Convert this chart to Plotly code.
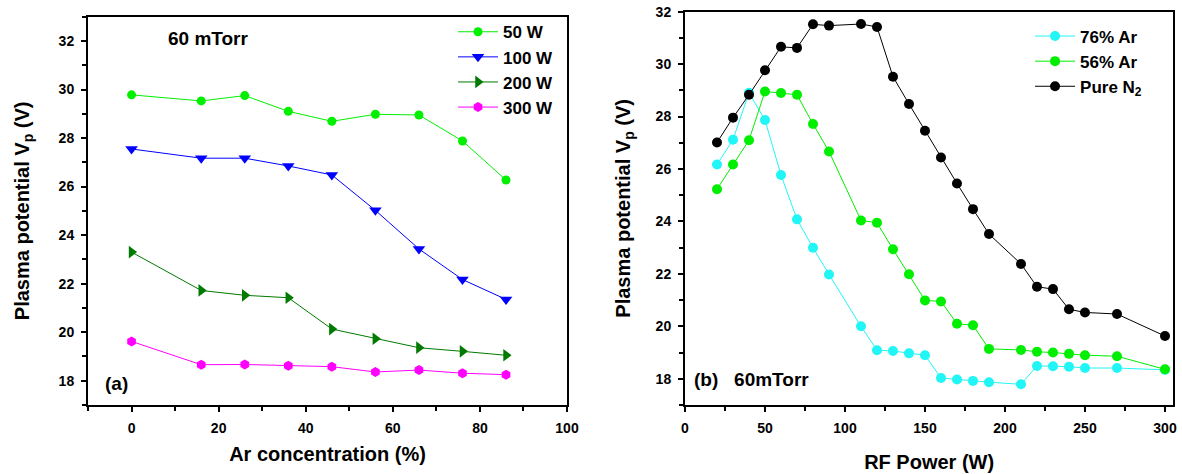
import plotly.graph_objects as go

# ---------------- data ----------------
ar_conc = [0, 16, 26, 36, 46, 56, 66, 76, 86]
vp_50w = [29.78, 29.53, 29.75, 29.10, 28.69, 28.98, 28.95, 27.88, 26.27]
vp_100w = [27.55, 27.17, 27.17, 26.85, 26.48, 25.02, 23.43, 22.17, 21.35]
vp_200w = [23.30, 21.72, 21.52, 21.42, 20.13, 19.73, 19.36, 19.21, 19.05]
vp_300w = [19.62, 18.66, 18.67, 18.62, 18.58, 18.36, 18.44, 18.31, 18.25]

rf_power = [20, 30, 40, 50, 60, 70, 80, 90, 110, 120, 130, 140, 150, 160,
            170, 180, 190, 210, 220, 230, 240, 250, 270, 300]
vp_76ar = [26.17, 27.12, 28.91, 27.87, 25.77, 24.08, 23.00, 21.98, 20.00, 19.09,
           19.06, 18.97, 18.90, 18.03, 17.97, 17.92, 17.87, 17.79, 18.49, 18.48,
           18.46, 18.41, 18.41, 18.34]
vp_56ar = [25.23, 26.17, 27.10, 28.96, 28.90, 28.83, 27.72, 26.67, 24.04, 23.95,
           22.94, 21.99, 20.99, 20.95, 20.10, 20.04, 19.14, 19.10, 19.03, 19.00,
           18.95, 18.90, 18.86, 18.36]
vp_n2 = [27.01, 27.96, 28.83, 29.77, 30.66, 30.62, 31.52, 31.47, 31.53, 31.42,
         29.52, 28.48, 27.46, 26.44, 25.45, 24.47, 23.52, 22.38, 21.51, 21.42,
         20.65, 20.53, 20.47, 19.63]

left_names = ["50 W", "100 W", "200 W", "300 W"]
right_names = ["76% Ar", "56% Ar", "Pure N<sub>2</sub>"]

FONT = "Liberation Sans, Arial, sans-serif"
BOLD = lambda s: dict(family=FONT, size=s, color="black", weight="bold")

fig = go.Figure()

left_series = [
    (vp_50w, "#00F000", "circle", 9),
    (vp_100w, "#0000FF", "triangle-down", 11),
    (vp_200w, "#007A00", "triangle-right", 11),
    (vp_300w, "#FF00FF", "hexagon", 10),
]
for name, (ys, col, sym, sz) in zip(left_names, left_series):
    fig.add_trace(go.Scatter(
        x=ar_conc, y=ys, name=name, mode="lines+markers",
        line=dict(color=col, width=1),
        marker=dict(color=col, symbol=sym, size=sz, line=dict(width=0)),
        xaxis="x", yaxis="y", legend="legend", legendgroup=name,
    ))

right_series = [
    (vp_76ar, "#22F5F5"),
    (vp_56ar, "#00EE00"),
    (vp_n2, "#000000"),
]
for name, (ys, col) in zip(right_names, right_series):
    fig.add_trace(go.Scatter(
        x=rf_power, y=ys, name=name, mode="lines+markers",
        line=dict(color=col, width=1),
        marker=dict(color=col, symbol="circle", size=10, line=dict(width=0)),
        xaxis="x2", yaxis="y2", legend="legend2", legendgroup=name,
    ))

axis_common = dict(
    showline=True, linecolor="black", linewidth=2, mirror=True,
    ticks="outside", ticklen=5, tickwidth=1.5, tickcolor="black",
    showgrid=False, zeroline=False, ticklabelstandoff=4, automargin=False,
    tickfont=BOLD(14),
    title_font=BOLD(20),
)
minor_common = dict(ticks="outside", ticklen=4, tickwidth=1.5, tickcolor="black", showgrid=False)

# plot area: x 50..1177 px, y 0..404.7 px
fig.update_layout(
    width=1182, height=474,
    margin=dict(l=50, r=5, t=0, b=69.3, autoexpand=False),
    paper_bgcolor="white", plot_bgcolor="white",
    font=dict(family=FONT, color="black"),
    xaxis=dict(domain=[0.03372, 0.45874], range=[-10, 100], dtick=20, tick0=0,
               minor=dict(dtick=10, tick0=0, **minor_common),
               title=dict(text="Ar concentration (%)", standoff=12),
               anchor="y", **axis_common),
    yaxis=dict(domain=[0, 0.95873], range=[17, 33], dtick=2, tick0=0,
               minor=dict(dtick=1, tick0=0, **minor_common),
               title=dict(text="Plasma potential V<sub>p</sub> (V)", standoff=24),
               anchor="x", **axis_common),
    xaxis2=dict(domain=[0.56344, 0.99672], range=[0, 305.2], dtick=50, tick0=0,
                minor=dict(dtick=25, tick0=0, **minor_common),
                title=dict(text="RF Power (W)", standoff=20),
                anchor="y2", **axis_common),
    yaxis2=dict(domain=[0, 0.97109], range=[17, 32], dtick=2, tick0=0,
                minor=dict(dtick=1, tick0=0, **minor_common),
                title=dict(text="Plasma potential V<sub>p</sub> (V)", standoff=20),
                anchor="x2", **axis_common),
    legend=dict(x=0.3576, y=0.9649, xanchor="left", yanchor="top",
                bgcolor="rgba(0,0,0,0)", borderwidth=0, tracegroupgap=0,
                itemwidth=40, font=BOLD(17)),
    legend2=dict(x=0.8696, y=0.9543, xanchor="left", yanchor="top",
                 bgcolor="rgba(0,0,0,0)", borderwidth=0, tracegroupgap=0,
                 itemwidth=40, font=BOLD(17)),
    annotations=[
        dict(text="60 mTorr", x=17.6, y=32.12, xref="x", yref="y",
             showarrow=False, font=BOLD(19)),
        dict(text="(a)", x=-3.5, y=17.9, xref="x", yref="y", showarrow=False,
             font=BOLD(19)),
        dict(text="(b)   60mTorr", x=4.2, y=17.96, xref="x2", yref="y2",
             xanchor="left", showarrow=False, font=BOLD(19)),
    ],
)

fig.write_html("out.html")
